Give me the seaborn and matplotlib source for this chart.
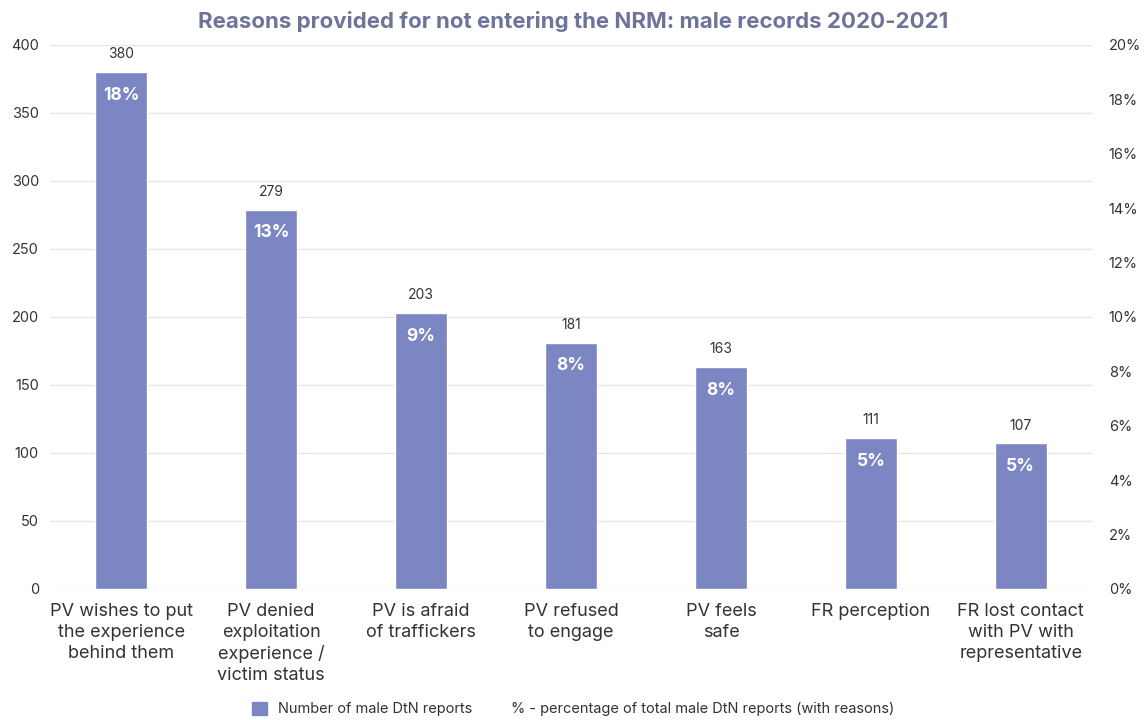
import numpy as np
import pandas as pd
import matplotlib.pyplot as plt
import seaborn as sns
from matplotlib.patches import Patch

# chart data
reasons = ['PV wishes to put\nthe experience\nbehind them',
           'PV denied\nexploitation\nexperience /\nvictim status',
           'PV is afraid\nof traffickers',
           'PV refused\nto engage',
           'PV feels\nsafe',
           'FR perception',
           'FR lost contact\nwith PV with\nrepresentative']
reports = [380, 279, 203, 181, 163, 111, 107]
pct = [18, 13, 9, 8, 8, 5, 5]

df = pd.DataFrame({'reason': reasons, 'reports': reports, 'pct': pct})

sns.set_theme(style='white')
plt.rcParams['font.family'] = ['Inter', 'DejaVu Sans']

bar_col = '#7b86c2'
txt_col = '#333333'

fig = plt.figure(figsize=(11.46, 7.2), dpi=100)
ax = fig.add_axes([50/1146, 1-589/720, 1042/1146, 544/720])
sns.barplot(data=df, x='reason', y='reports', color=bar_col, width=0.35,
            saturation=1, ax=ax, zorder=3)
ax.set_ylim(0, 400)
ax.set_xlim(-0.475, 6.475)
ax.set_yticks(np.arange(0, 401, 50))
ax.yaxis.grid(True, color='#e6e6e6', linewidth=1, zorder=0)
ax.set_axisbelow(True)
for s in ax.spines.values():
    s.set_visible(False)
ax.set_xlabel('')
ax.set_ylabel('')
ax.tick_params(axis='y', length=0, pad=8, labelsize=10.5, labelcolor=txt_col)
ax.tick_params(axis='x', length=0, pad=10, labelsize=13, labelcolor=txt_col)
for lbl in ax.get_xticklabels():
    lbl.set_verticalalignment('top')
    lbl.set_linespacing(1.3)

for i, (v, p) in enumerate(zip(reports, pct)):
    ax.text(i, v + 8, str(v), ha='center', va='bottom', fontsize=10, color=txt_col)
    ax.text(i, v - 17, f'{p}%', ha='center', va='center', fontsize=12.5,
            fontweight='bold', color='white')

ax2 = ax.twinx()
ax2.set_ylim(0, 20)
ax2.set_yticks(np.arange(0, 21, 2))
ax2.set_yticklabels([f'{t}%' for t in range(0, 21, 2)])
ax2.tick_params(axis='y', length=0, pad=12, labelsize=10.5, labelcolor=txt_col)
ax2.grid(False)
for s in ax2.spines.values():
    s.set_visible(False)

fig.text(0.5, 1-22/720, 'Reasons provided for not entering the NRM: male records 2020-2021',
         ha='center', va='center', fontsize=16, fontweight='bold', color='#6e7499')

fig.legend(handles=[Patch(color=bar_col, label='Number of male DtN reports'),
                    Patch(color='none', label='% - percentage of total male DtN reports (with reasons)')],
           loc='center', bbox_to_anchor=(0.5, 1-709/720), ncol=2, frameon=False,
           fontsize=10.5, handlelength=1, handleheight=1, columnspacing=0.8,
           labelcolor=txt_col)

fig.savefig('out.png', dpi=100)
